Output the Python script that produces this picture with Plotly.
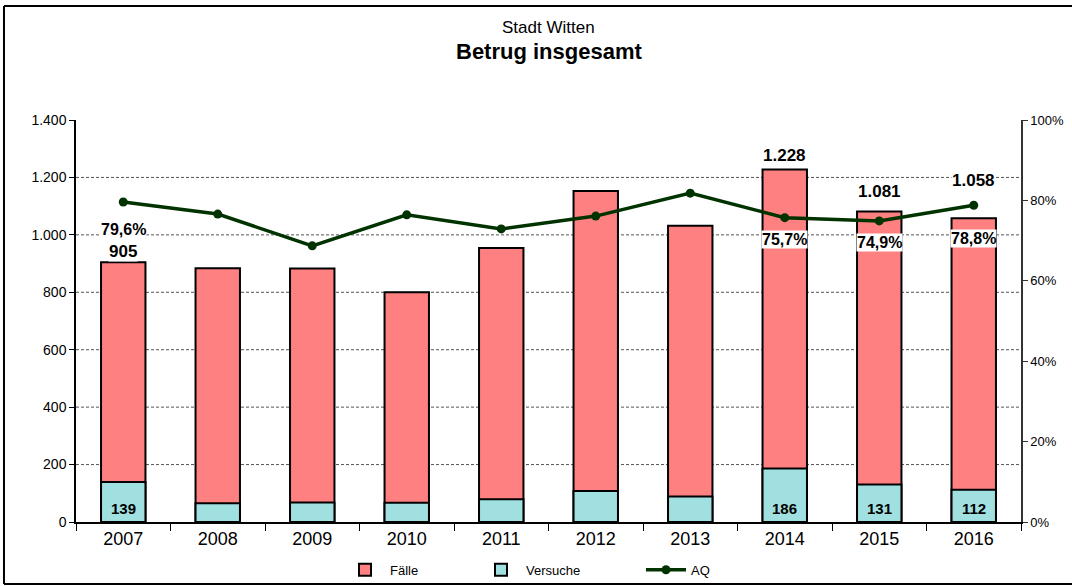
import plotly.graph_objects as go

years = ["2007", "2008", "2009", "2010", "2011", "2012", "2013", "2014", "2015", "2016"]
faelle = [905, 884, 883, 800, 954, 1153, 1032, 1228, 1081, 1058]
versuche = [139, 65, 68, 67, 79, 108, 89, 186, 131, 112]
aq = [79.6, 76.6, 68.7, 76.4, 72.9, 76.1, 81.8, 75.7, 74.9, 78.8]
label_years = ["2007", "2014", "2015", "2016"]
left_ticks = [0, 200, 400, 600, 800, 1000, 1200, 1400]

# label offsets (px) for the labelled years
total_shift = {"2007": 11, "2014": 14, "2015": 20, "2016": 38}
aq_shift = {"2007": -27, "2014": -22, "2015": -22, "2016": -33}

FONT = "Liberation Sans, Arial, sans-serif"
RED = "#FF8080"
CYAN = "#A0E0E0"
GREEN = "#003300"


def de_int(v):
    return f"{v:,}".replace(",", ".")


def de_pct(v):
    return f"{v:.1f}".replace(".", ",") + "%"


fig = go.Figure()
fig.add_trace(go.Bar(x=years, y=faelle, name="Fälle", marker=dict(color=RED, line=dict(color="black", width=2)),
                     width=0.47, legend="legend"))
fig.add_trace(go.Bar(x=years, y=versuche, name="Versuche", marker=dict(color=CYAN, line=dict(color="black", width=2)),
                     width=0.47, legend="legend2"))
fig.add_trace(go.Scatter(x=years, y=aq, name="AQ", yaxis="y2", mode="lines+markers",
                         line=dict(color=GREEN, width=3.5), marker=dict(color=GREEN, size=9),
                         legend="legend3"))

ann = []
for i, yr in enumerate(years):
    if yr in label_years:
        ann.append(dict(x=i, y=faelle[i], xref="x", yref="y", text=f"<b>{de_int(faelle[i])}</b>",
                        showarrow=False, yanchor="middle", yshift=total_shift[yr], bgcolor="white", borderpad=0,
                        font=dict(family=FONT, size=17, color="black")))
        ann.append(dict(x=i, y=aq[i], xref="x", yref="y2", text=f"<b>{de_pct(aq[i])}</b>",
                        showarrow=False, yanchor="middle", yshift=aq_shift[yr], bgcolor="white", borderpad=0,
                        font=dict(family=FONT, size=16, color="black")))
        ann.append(dict(x=i, y=0, xref="x", yref="y", text=f"<b>{versuche[i]}</b>",
                        showarrow=False, yanchor="middle", yshift=14,
                        font=dict(family=FONT, size=15, color="black")))

ann.append(dict(x=0.5, y=1.2289, xref="paper", yref="paper", text="Stadt Witten", showarrow=False,
                yanchor="middle", font=dict(family=FONT, size=17, color="black")))
ann.append(dict(x=0.5, y=1.1716, xref="paper", yref="paper", text="<b>Betrug insgesamt</b>", showarrow=False,
                yanchor="middle", font=dict(family=FONT, size=22, color="black")))

shapes = []
for t in left_ticks[1:-1]:
    shapes.append(dict(type="line", xref="paper", yref="y", x0=0, x1=1, y0=t, y1=t, layer="below",
                       line=dict(color="#555555", width=1, dash="3px,2px")))
# outer chart frame
frame = dict(color="black", width=2)
shapes.append(dict(type="line", xref="paper", yref="paper", x0=-0.0762, x1=-0.0762, y0=-0.1542, y1=1.2836, line=frame))
shapes.append(dict(type="line", xref="paper", yref="paper", x0=-0.0762, x1=1.06, y0=1.2836, y1=1.2836, line=frame))
shapes.append(dict(type="line", xref="paper", yref="paper", x0=-0.0762, x1=1.06, y0=-0.1542, y1=-0.1542, line=frame))

leg_common = dict(orientation="h", yref="paper", y=-0.119, yanchor="middle", xanchor="left",
                  bgcolor="rgba(0,0,0,0)", font=dict(family=FONT, size=13, color="black"), itemwidth=40)

fig.update_layout(
    width=1072, height=586,
    margin=dict(l=76, r=51, t=120, b=64, autoexpand=False),
    paper_bgcolor="white", plot_bgcolor="white",
    separators=",.",
    barmode="overlay",
    font=dict(family=FONT, color="black"),
    showlegend=True,
    legend=dict(x=(340 - 76) / 945, **leg_common),
    legend2=dict(x=(476 - 76) / 945, **leg_common),
    legend3=dict(x=(641 - 76) / 945, **leg_common),
    xaxis=dict(type="category", range=[-0.5, 9.5], showline=True, linecolor="black", linewidth=1.5,
               ticks="outside", tickson="boundaries", ticklen=7, tickcolor="black", showgrid=False,
               tickangle=0, automargin=False, tickfont=dict(family=FONT, size=18, color="black")),
    yaxis=dict(range=[0, 1400], tickvals=left_ticks, tickformat=",d", showline=True, linecolor="black",
               linewidth=1.5, ticks="outside", ticklen=5, tickcolor="black", showgrid=False, zeroline=False,
               automargin=False, tickfont=dict(family=FONT, size=14, color="black")),
    yaxis2=dict(range=[0, 100], dtick=20, ticksuffix="%", overlaying="y", side="right", showline=True,
                linecolor="#333333", linewidth=1.5, ticks="outside", ticklen=5, tickcolor="#333333",
                showgrid=False, zeroline=False, automargin=False,
                tickfont=dict(family=FONT, size=13, color="black")),
    annotations=ann,
    shapes=shapes,
)

fig.write_html("out.html", config={"displayModeBar": False},
               post_script="document.body.style.margin='0';")
